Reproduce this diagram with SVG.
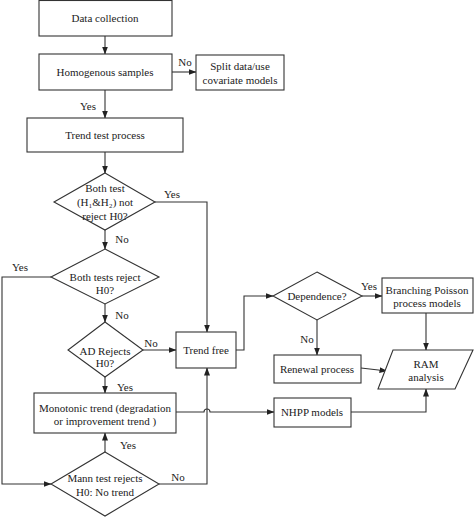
<svg xmlns="http://www.w3.org/2000/svg" width="474" height="518" viewBox="0 0 474 518">
<style>
.s{fill:#fff;stroke:#333;stroke-width:1.1}
.c{fill:none;stroke:#333;stroke-width:1.1}
text{font-family:"Liberation Serif","Times New Roman",serif;font-size:11px;fill:#222;text-anchor:middle}
.l{text-anchor:start}
</style>
<defs>
<marker id="a" markerWidth="8" markerHeight="6" refX="7.5" refY="3" orient="auto" markerUnits="userSpaceOnUse">
<polygon points="0,0 8,3 0,6" fill="#222"/>
</marker>
</defs>
<rect width="474" height="518" fill="#fff"/>
<g id="connectors" class="c" marker-end="url(#a)">
<path d="M105,36V54"/>
<path d="M172,72H196"/>
<path d="M105,90V118"/>
<path d="M105,152V173"/>
<path d="M155,202H207V332"/>
<path d="M105,230V249"/>
<path d="M51,277H2V484H51"/>
<path d="M105,304V322"/>
<path d="M143,350H176"/>
<path d="M105,377V393"/>
<path d="M105,452V433"/>
<path d="M159,484H207V368"/>
<path d="M176,412H204A3,3 0 0 1 210,412H274"/>
<path d="M236,350H244V296H273"/>
<path d="M362,296H382"/>
<path d="M317,320V355"/>
<path d="M426,313V350"/>
<path d="M361,368L387,371"/>
<path d="M351,412H426V389"/>
</g>
<g id="labels">
<text x="185" y="66">No</text>
<text x="88" y="110">Yes</text>
<text x="172" y="198">Yes</text>
<text x="122" y="243">No</text>
<text x="20" y="271">Yes</text>
<text x="122" y="319">No</text>
<text x="151" y="347">No</text>
<text x="125" y="391">Yes</text>
<text x="128" y="449">Yes</text>
<text x="178" y="481">No</text>
<text x="369" y="290">Yes</text>
<text x="307" y="343">No</text>
</g>
<g id="data-collection"><rect class="s" x="39" y="0.5" width="133" height="35.5"/><text x="105" y="22">Data collection</text></g>
<g id="homogenous"><rect class="s" x="39" y="54" width="133" height="36"/><text x="105" y="76">Homogenous samples</text></g>
<g id="split"><rect class="s" x="196" y="55" width="88" height="35"/><text x="240" y="70">Split data/use</text><text x="240" y="84">covariate models</text></g>
<g id="trend-test"><rect class="s" x="27" y="118" width="156" height="34"/><text x="105" y="139">Trend test process</text></g>
<g id="both-not-reject"><polygon class="s" points="105,173 155,202 105,230 54,202"/><text x="105" y="192">Both test</text><text x="105" y="206">(H₁&amp;H₂) not</text><text x="105" y="220">reject H0?</text></g>
<g id="both-reject"><polygon class="s" points="105,249 159,277 105,304 51,277"/><text x="105" y="281">Both tests reject</text><text x="105" y="294">H0?</text></g>
<g id="ad-rejects"><polygon class="s" points="105,322 143,350 105,377 68,350"/><text x="105" y="355">AD Rejects</text><text x="105" y="367">H0?</text></g>
<g id="trend-free"><rect class="s" x="176" y="332" width="60" height="36"/><text x="206" y="354">Trend free</text></g>
<g id="monotonic"><rect class="s" x="34" y="393" width="142" height="40"/><text x="105" y="412">Monotonic trend (degradation</text><text x="105" y="425">or improvement trend )</text></g>
<g id="mann"><polygon class="s" points="105,452 159,484 105,516 51,484"/><text x="105" y="482">Mann test rejects</text><text x="105" y="496">H0: No trend</text></g>
<g id="dependence"><polygon class="s" points="317,272 362,296 317,320 273,296"/><text x="317" y="300">Dependence?</text></g>
<g id="branching"><rect class="s" x="382" y="278" width="91" height="35"/><text x="427" y="294">Branching Poisson</text><text x="427" y="307">process models</text></g>
<g id="renewal"><rect class="s" x="274" y="355" width="87" height="28"/><text x="317" y="373">Renewal process</text></g>
<g id="ram"><polygon class="s" points="393,350 473,350 455,389 378,389"/><text x="426" y="368">RAM</text><text x="426" y="381">analysis</text></g>
<g id="nhpp"><rect class="s" x="274" y="398" width="77" height="29"/><text x="312" y="416">NHPP models</text></g>
</svg>
